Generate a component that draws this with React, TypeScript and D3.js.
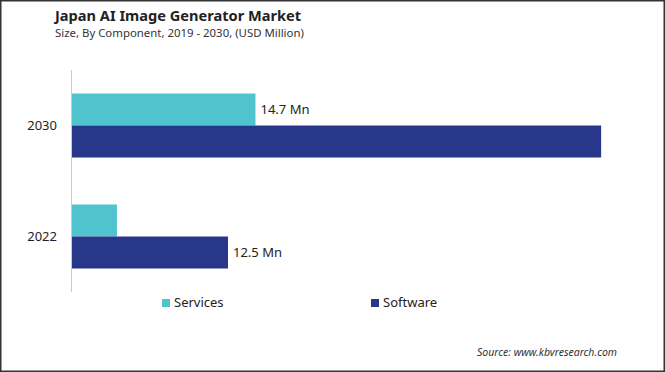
import React from 'react';
import * as d3 from 'd3';

const years = ['2030', '2022'];
const seriesNames = ['Services', 'Software'];
const servicesValues = [14.7, 3.6];
const softwareValues = [42.4, 12.5];
const valueLabels = [['14.7 Mn', ''], ['', '12.5 Mn']]; // per series, per year
const colors = ['#4FC4CF', '#29378B'];

const W = 665;
const H = 372;
const FONT = '"Noto Sans", "Open Sans", sans-serif';

const App = () => {
  const x = d3.scaleLinear().domain([0, 45]).range([72, 72 + 45 * 12.48]);
  const y = d3.scaleBand().domain(years).range([70, 292]).paddingInner(0.4234).paddingOuter(0.2117);
  const sub = d3.scaleBand().domain(seriesNames).range([0, y.bandwidth()]);
  const allValues = [servicesValues, softwareValues];

  return (
    <svg width={W} height={H} style={{ position: 'absolute', left: 0, top: 0, display: 'block', background: '#fff' }}>
      <rect x={0.75} y={0.75} width={W - 1.5} height={H - 1.5} fill="#fff" stroke="#333" strokeWidth={1.5} />

      <text x={55} y={21} fontFamily={FONT} fontSize={14.6} fontWeight={700} fill="#222">
        Japan AI Image Generator Market
      </text>
      <text x={55} y={37} fontFamily={FONT} fontSize={11.4} fill="#333">
        Size, By Component, 2019 - 2030, (USD Million)
      </text>

      {seriesNames.map((s, si) =>
        years.map((yr, yi) => {
          const v = allValues[si][yi];
          const by = (y(yr) ?? 0) + (sub(s) ?? 0);
          const bh = sub.bandwidth();
          return (
            <g key={s + yr}>
              <rect x={x(0)} y={by} width={x(v) - x(0)} height={bh} fill={colors[si]} />
              {valueLabels[si][yi] && (
                <text x={x(v) + 5} y={by + bh / 2} dy="0.35em" fontFamily={FONT} fontSize={13} fill="#222">
                  {valueLabels[si][yi]}
                </text>
              )}
            </g>
          );
        })
      )}

      <line x1={71.5} x2={71.5} y1={y.range()[0]} y2={y.range()[1]} stroke="#ccc" strokeWidth={1} />

      {years.map((yr) => (
        <text key={yr} x={57} y={(y(yr) ?? 0) + y.bandwidth() / 2} dy="0.35em" textAnchor="end" fontFamily={FONT} fontSize={13} fill="#222">
          {yr}
        </text>
      ))}

      {seriesNames.map((s, i) => {
        const lx = [162, 371][i];
        return (
          <g key={s}>
            <rect x={lx} y={299} width={8} height={8} fill={colors[i]} />
            <text x={lx + 12} y={307} fontFamily={FONT} fontSize={13} fill="#222">
              {s}
            </text>
          </g>
        );
      })}

      <text x={617} y={356} textAnchor="end" fontFamily={FONT} fontSize={10.5} fontStyle="italic" fill="#333">
        Source: www.kbvresearch.com
      </text>
    </svg>
  );
};

export default App;
